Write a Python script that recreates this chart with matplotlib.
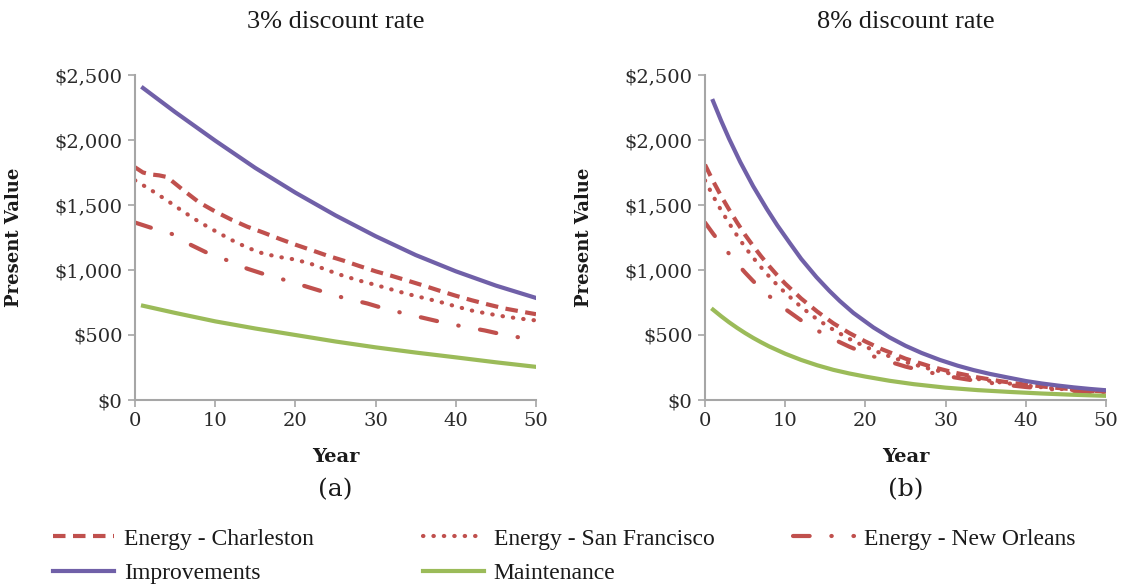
import matplotlib
matplotlib.use("Agg")
import matplotlib.pyplot as plt
from matplotlib.ticker import FuncFormatter
from matplotlib.lines import Line2D

# ---------------- data ----------------
# 3% discount rate
yr_imp3 = [1, 5, 10, 15, 20, 25, 30, 35, 40, 45, 50]
imp3 = [2400, 2215, 1995, 1785, 1595, 1420, 1260, 1115, 990, 880, 785]

yr_chs3 = [0, 1, 2, 3, 4, 5, 6, 8, 10, 12, 14, 16, 18, 20, 22, 24, 26, 28, 30, 32, 34, 36, 38, 40, 42, 44, 46, 48, 50]
chs3 = [1790, 1750, 1735, 1728, 1715, 1665, 1615, 1520, 1450, 1388, 1333, 1288, 1240, 1195, 1153, 1110, 1072, 1030,
        990, 955, 918, 880, 840, 802, 767, 735, 705, 682, 660]

yr_sf3 = [0, 2, 4, 6, 8, 10, 12, 14, 16, 18, 20, 22, 24, 26, 28, 30, 32, 34, 36, 38, 40, 42, 44, 46, 48, 50]
sf3 = [1690, 1615, 1535, 1450, 1370, 1300, 1232, 1172, 1126, 1100, 1080, 1046, 998, 955, 918, 885, 850, 815,
       785, 755, 720, 688, 664, 643, 626, 612]

yr_no3 = [0, 2, 4.6, 7, 9, 11.7, 14, 16.5, 19, 21.5, 24, 26, 29, 31, 33.5, 36, 38.5, 41, 43.6, 46, 49]
no3 = [1365, 1325, 1277, 1192, 1132, 1070, 1010, 960, 918, 870, 823, 786, 742, 705, 667, 631, 595, 564, 535, 502, 470]

yr_mnt3 = [1, 5, 10, 15, 20, 25, 30, 35, 40, 45, 50]
mnt3 = [725, 670, 605, 550, 500, 450, 405, 365, 328, 290, 255]

# 8% discount rate
yr_imp8 = [1, 2, 3, 4.4, 6, 7.7, 9, 10.6, 12, 13.9, 15.5, 16.8, 18.5, 21, 23, 25, 27, 29.3, 31.5, 33.5, 35.5,
           37.6, 40, 42, 44, 46, 48, 50]
imp8 = [2300, 2150, 2010, 1830, 1645, 1470, 1345, 1205, 1085, 945, 840, 762, 670, 558, 482, 417, 362, 308, 264,
        230, 201, 175, 146, 127, 111, 97, 85, 75]

yr_chs8 = [0, 1, 2, 3, 4, 5, 6, 7, 8, 9, 10, 12, 14, 16, 18, 20, 22, 25, 28, 31, 34, 37, 40, 43, 46, 50]
chs8 = [1810, 1685, 1570, 1465, 1365, 1270, 1185, 1105, 1030, 960, 895, 780, 680, 590, 515, 450, 392, 318, 260,
        212, 174, 143, 118, 98, 82, 64]

yr_sf8 = [0, 1, 2, 3, 4, 5, 6, 7, 8, 9, 10, 12, 14, 16, 18, 20, 22, 25, 28, 31, 34, 37, 40, 43, 46, 50]
sf8 = [1690, 1570, 1460, 1360, 1265, 1175, 1095, 1020, 950, 885, 825, 715, 620, 540, 470, 410, 358, 292, 240,
       197, 162, 134, 111, 92, 77, 60]

yr_no8 = [0, 1, 2, 3, 4, 5, 6, 7, 8, 9, 10, 12, 14, 16, 18, 20, 22, 25, 28, 31, 34, 37, 40, 43, 46, 50]
no8 = [1365, 1280, 1200, 1125, 1050, 980, 915, 855, 800, 748, 700, 612, 535, 468, 410, 358, 314, 257, 212,
       175, 145, 120, 100, 84, 70, 55]

yr_mnt8 = [1, 2, 3, 4, 5, 6, 7, 8, 10, 12, 14, 16, 18, 20, 23, 26, 30, 34, 38, 42, 46, 50]
mnt8 = [695, 645, 598, 555, 515, 478, 444, 412, 356, 308, 267, 232, 204, 180, 148, 122, 95, 76, 62, 50, 40, 32]

titles = ["3% discount rate", "8% discount rate"]
panel_tags = ["(a)", "(b)"]
labels = ["Energy - Charleston", "Energy - San Francisco", "Energy - New Orleans", "Improvements", "Maintenance"]
x_ticks = [0, 10, 20, 30, 40, 50]
y_ticks = [0, 500, 1000, 1500, 2000, 2500]

# ---------------- styling ----------------
RED = "#C0504D"
PURPLE = "#7060A8"
GREEN = "#9BBB59"
GRAY = "#A6A6A6"
LW = 3.0
SERIF = ["DejaVu Serif"]
TIMES = ["Liberation Serif"]

styles = {
    "Energy - Charleston": dict(color=RED, lw=LW, linestyle=(0, (3.0, 1.8)), dash_capstyle="butt"),
    "Energy - San Francisco": dict(color=RED, lw=LW, linestyle=(0, (0.1, 2.4)), dash_capstyle="round"),
    "Energy - New Orleans": dict(color=RED, lw=LW, linestyle=(0, (4.0, 5.2, 0.1, 5.2)), dash_capstyle="round"),
    "Improvements": dict(color=PURPLE, lw=LW, linestyle="-"),
    "Maintenance": dict(color=GREEN, lw=LW, linestyle="-"),
}

W, H = 1121, 586
fig = plt.figure(figsize=(W / 100, H / 100), dpi=100)

def px2fig(x, y):
    return x / W, 1 - y / H

panels = [
    dict(left=135, data=[(yr_chs3, chs3), (yr_sf3, sf3), (yr_no3, no3), (yr_imp3, imp3), (yr_mnt3, mnt3)]),
    dict(left=705, data=[(yr_chs8, chs8), (yr_sf8, sf8), (yr_no8, no8), (yr_imp8, imp8), (yr_mnt8, mnt8)]),
]
ax_w, ax_top, ax_bot = 401, 75, 400

money = FuncFormatter(lambda v, p: "${:,.0f}".format(v))

for i, p in enumerate(panels):
    l, b = px2fig(p["left"], ax_bot)
    ax = fig.add_axes([l, b, ax_w / W, (ax_bot - ax_top) / H])
    for (xs, ys), lab in zip(p["data"], labels):
        ax.plot(xs, ys, label=lab, **styles[lab])
    ax.set_xlim(0, 50)
    ax.set_ylim(0, 2500)
    ax.set_xticks(x_ticks)
    ax.set_yticks(y_ticks)
    ax.yaxis.set_major_formatter(money)
    for s in ["top", "right"]:
        ax.spines[s].set_visible(False)
    for s in ["left", "bottom"]:
        ax.spines[s].set_color(GRAY)
        ax.spines[s].set_linewidth(1.5)
    ax.tick_params(direction="out", length=5, width=1.2, color=GRAY, labelsize=14, labelcolor="#2a2a2a", pad=4)
    for t in ax.get_xticklabels() + ax.get_yticklabels():
        t.set_family(SERIF)
    ax.set_ylabel("Present Value", fontsize=13, fontweight="bold", family=SERIF, color="#1a1a1a")
    ax.yaxis.set_label_coords(-112 / ax_w, 0.5)
    ax.set_xlabel("Year", fontsize=14, fontweight="bold", family=SERIF, color="#1a1a1a")
    ax.xaxis.set_label_coords(0.5, -(448 - ax_bot) / (ax_bot - ax_top))
    cx = p["left"] + ax_w / 2
    fig.text(*px2fig(cx, 22), titles[i], ha="center", va="center", fontsize=19, family=TIMES, color="#1a1a1a")
    fig.text(*px2fig(cx, 490), panel_tags[i], ha="center", va="center", fontsize=18, family=SERIF, color="#1a1a1a")

# legend: three columns placed at fixed pixel positions
cols = [[labels[0], labels[3]], [labels[1], labels[4]], [labels[2]]]
col_x = [53, 423, 793]
for labs, x in zip(cols, col_x):
    handles = [Line2D([], [], **styles[lb]) for lb in labs]
    leg = fig.legend(handles, labs, loc="upper left", bbox_to_anchor=px2fig(x, 528),
                     frameon=False, borderpad=0, borderaxespad=0, handlelength=2.6,
                     handletextpad=0.4, labelspacing=0.55,
                     prop={"family": TIMES, "size": 17})
    for t in leg.get_texts():
        t.set_color("#1a1a1a")

fig.savefig("out.png", dpi=100)
